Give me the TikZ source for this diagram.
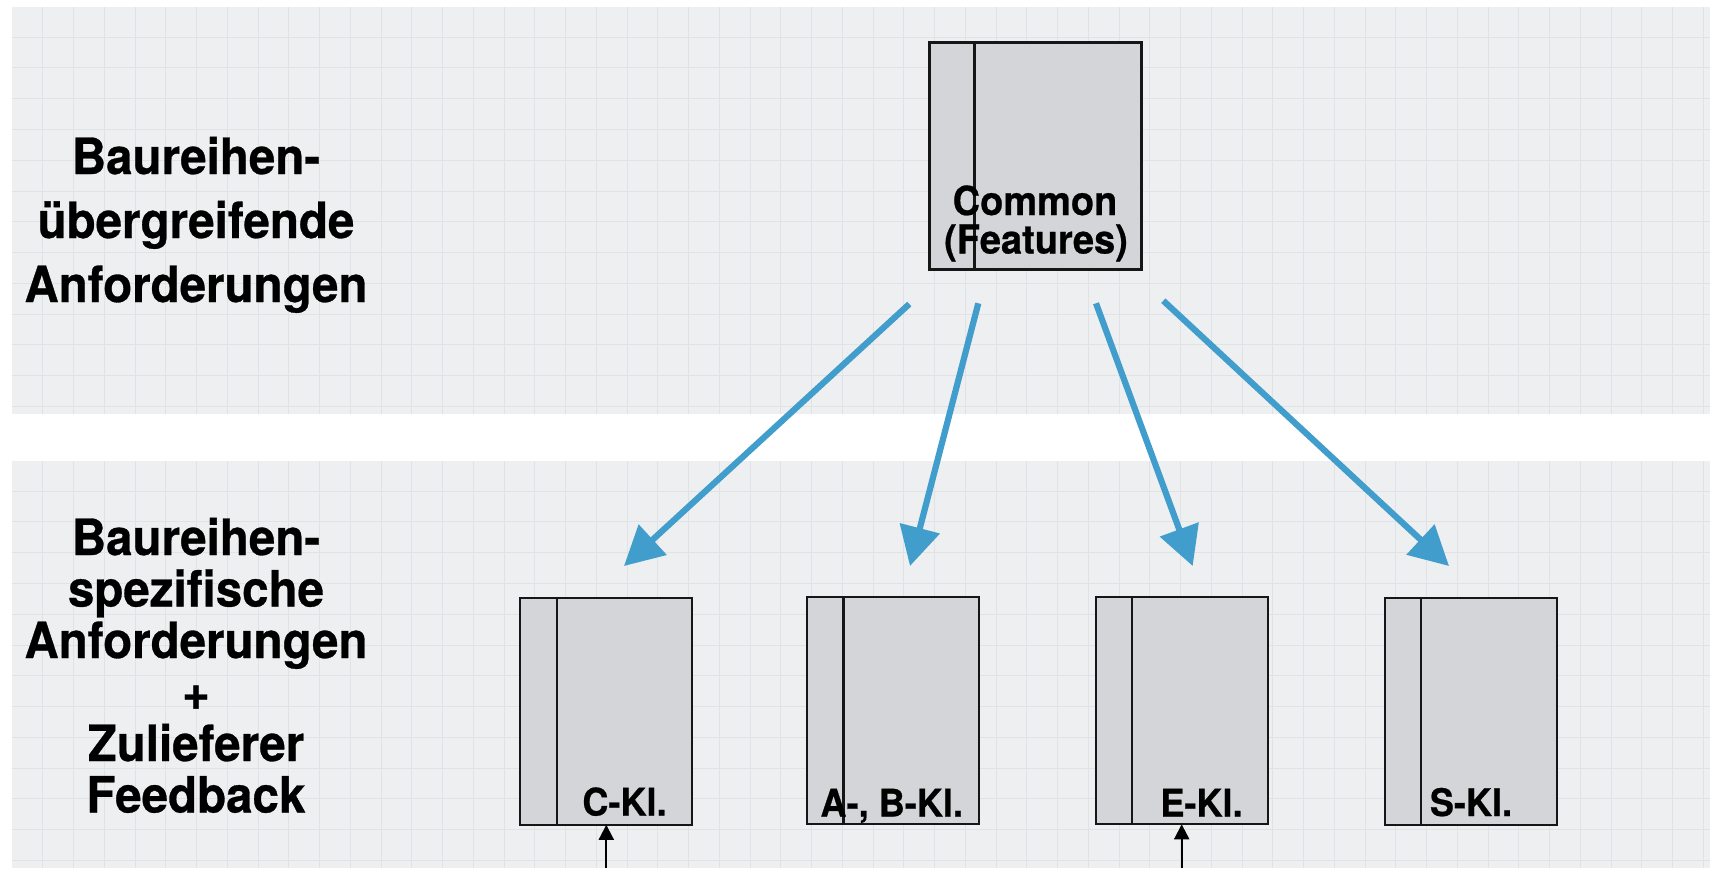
\documentclass[tikz,border=0pt]{standalone}
\usepackage{fontspec}
\setmainfont{TeX Gyre Heros}
\newfontfamily\lblfont[FakeStretch=0.95,FakeBold=0.6]{TeX Gyre Heros}
\usetikzlibrary{arrows.meta}
\definecolor{panelbg}{HTML}{EEEFF0}
\definecolor{gridc}{HTML}{E1E2E5}
\definecolor{boxfill}{HTML}{D4D5D8}
\definecolor{boxline}{HTML}{161616}
\definecolor{arrowblue}{HTML}{419DCB}
\begin{document}
\begin{tikzpicture}[x=1pt,y=-1pt,
  panel/.style={fill=panelbg,draw=none},
  gridline/.style={draw=gridc,line width=0.8pt},
  book/.style={draw=boxline,line width=2.2pt,fill=boxfill,minimum width=172pt,minimum height=227pt,inner sep=0pt,outer sep=0pt},
  spine/.style={draw=boxline,line width=2.2pt},
  side label/.style={font=\lblfont\bfseries\fontsize{50}{60}\selectfont,anchor=base,inner sep=0pt,text=black},
  box label/.style={font=\lblfont\bfseries\fontsize{38}{44}\selectfont,anchor=base,inner sep=0pt,text=black},
  big label/.style={font=\lblfont\bfseries\fontsize{40}{46}\selectfont,anchor=base,inner sep=0pt,text=black},
  blue arrow/.style={draw=arrowblue,line width=6.2pt,-{Triangle[width=40pt,length=39pt]}},
  feed arrow/.style={draw=black,line width=2pt,-{Triangle[width=15pt,length=15pt]}}
]
\useasboundingbox (0,0) rectangle (1710,868);
\fill[white] (0,0) rectangle (1710,868);
% panels
\fill[panel] (12,7) rectangle (1710,413.7);
\fill[panel] (12,461) rectangle (1710,868);
% grid
\foreach \x in {42.7,73.45,...,1710} {
  \draw[gridline] (\x,7) -- (\x,413.7);
  \draw[gridline] (\x,461) -- (\x,868);
}
\foreach \y in {37,67.78,...,413} \draw[gridline] (12,\y) -- (1710,\y);
\foreach \y in {491,521.78,...,868} \draw[gridline] (12,\y) -- (1710,\y);

% side labels top
\node[side label] (t1) at (196,174) {Baureihen-};
\node[side label] (t2) at (196,238) {übergreifende};
\node[side label] (t3) at (196,302) {Anforderungen};
% side labels bottom
\node[side label] (b1) at (196,555) {Baureihen-};
\node[side label] (b2) at (196,606.5) {spezifische};
\node[side label] (b3) at (196,658) {Anforderungen};
\node[side label] (b4) at (196,709.5) {+};
\node[side label] (b5) at (196,761) {Zulieferer};
\node[side label] (b6) at (196,812.5) {Feedback};

% common box
\node[book,minimum width=212pt] (common) at (1035.5,156) {};
\draw[spine] ([xshift=45pt]common.north west) -- ([xshift=45pt]common.south west);
\node[big label] (cl1) at (1035,215) {Common};
\node[big label] (cl2) at (1036,253.5) {(Features)};

% bottom boxes
\node[book] (cbox) at (606.3,711.3) {};
\draw[spine] ([xshift=37pt]cbox.north west) -- ([xshift=37pt]cbox.south west);
\node[box label] (cboxl) at (624.5,815.5) {C-Kl.};

\node[book] (abbox) at (892.8,710.5) {};
\draw[spine] ([xshift=36.6pt]abbox.north west) -- ([xshift=36.6pt]abbox.south west);
\node[box label] (abboxl) at (891.7,816.5) {A-, B-Kl.};

\node[book] (ebox) at (1181.7,710.8) {};
\draw[spine] ([xshift=36.6pt]ebox.north west) -- ([xshift=36.6pt]ebox.south west);
\node[box label] (eboxl) at (1201.5,816.5) {E-Kl.};

\node[book] (sbox) at (1470.8,711.5) {};
\draw[spine] ([xshift=36.5pt]sbox.north west) -- ([xshift=36.5pt]sbox.south west);
\node[box label] (sboxl) at (1471,816) {S-Kl.};

% blue arrows
\coordinate (a1s) at (909.3,304);
\coordinate (a1e) at (624,566);
\coordinate (a2s) at (978.3,303.3);
\coordinate (a2e) at (910,566);
\coordinate (a3s) at (1096,303.3);
\coordinate (a3e) at (1192.7,566);
\coordinate (a4s) at (1163.3,300.7);
\coordinate (a4e) at (1449,566);
\draw[blue arrow] (a1s) -- (a1e);
\draw[blue arrow] (a2s) -- (a2e);
\draw[blue arrow] (a3s) -- (a3e);
\draw[blue arrow] (a4s) -- (a4e);

% feedback arrows
\coordinate (fc) at (606.3,868);
\coordinate (fe) at (1181.7,868);
\draw[feed arrow] (fc) -- (cbox.south);
\draw[feed arrow] (fe) -- (ebox.south);
\end{tikzpicture}
\end{document}
